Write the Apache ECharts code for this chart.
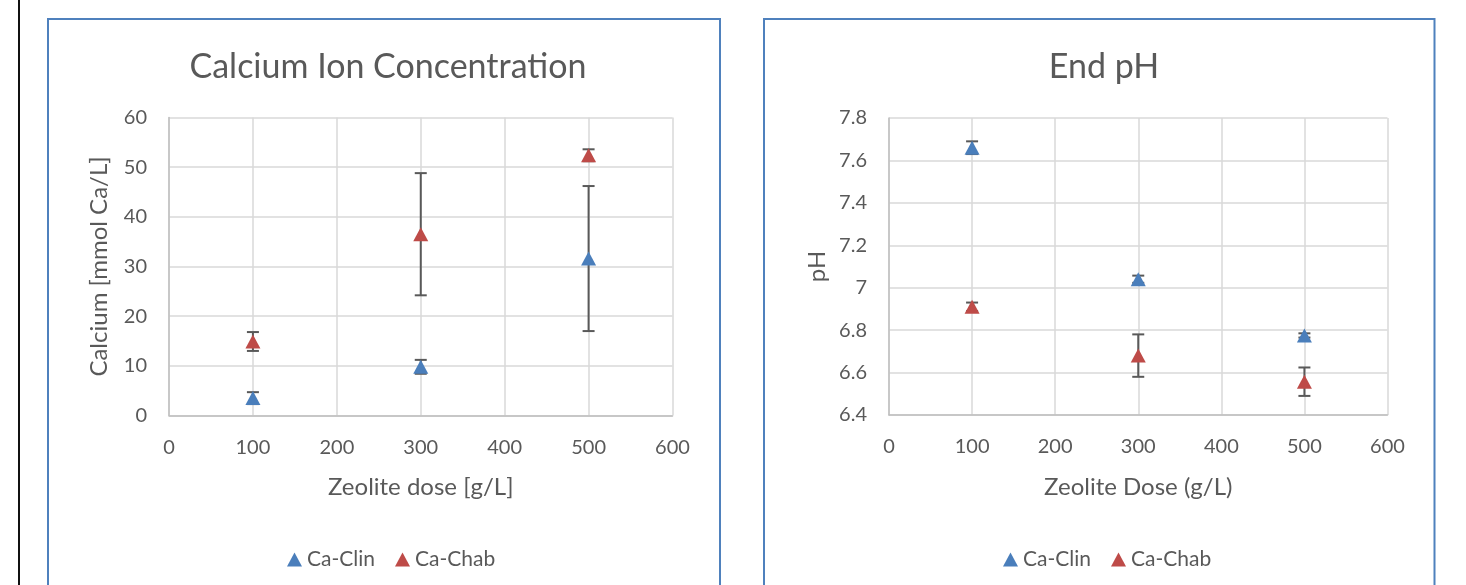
<!DOCTYPE html>
<html><head><meta charset="utf-8">
<script src="https://cdn.jsdelivr.net/npm/echarts@6/dist/echarts.min.js"></script>
<style>html,body{margin:0;padding:0;background:#fff;}#c{width:1466px;height:585px;}</style>
</head><body><div id="c"></div>
<script>
const doses = [100, 300, 500];
const caClin = [3.5, 9.8, 31.6];
const caClinErr = [1.2, 1.4, 14.6];
const caChab = [14.9, 36.5, 52.4];
const caChabErr = [1.9, 12.3, 1.2];
const phClin = [7.66, 7.04, 6.775];
const phClinErr = [0.03, 0.017, 0.01];
const phChab = [6.91, 6.68, 6.557];
const phChabErr = [0.02, 0.1, 0.067];
const seriesNames = ['Ca-Clin', 'Ca-Chab'];
const titles = ['Calcium Ion Concentration', 'End pH'];
const xNames = ['Zeolite dose [g/L]', 'Zeolite Dose (g/L)'];
const yNames = ['Calcium [mmol Ca/L]', 'pH'];

const BLUE = '#4a7ebb', RED = '#be4b48', TXT = '#595959', FONT = 'Lato, "Open Sans", sans-serif';

function pts(xs, ys) { return xs.map((x, i) => [x, ys[i]]); }
function errPts(xs, ys, es) { return xs.map((x, i) => [x, ys[i] - es[i], ys[i] + es[i]]); }

function errSeries(idx, data) {
  return {
    type: 'custom', xAxisIndex: idx, yAxisIndex: idx, z: 1, silent: true,
    data: data,
    renderItem: function (params, api) {
      const x = api.value(0);
      const lo = api.coord([x, api.value(1)]);
      const hi = api.coord([x, api.value(2)]);
      const w = 6;
      const st = { stroke: '#595959', lineWidth: 2 };
      return { type: 'group', children: [
        { type: 'line', shape: { x1: lo[0], y1: lo[1], x2: hi[0], y2: hi[1] }, style: st },
        { type: 'line', shape: { x1: lo[0] - w, y1: lo[1], x2: lo[0] + w, y2: lo[1] }, style: st },
        { type: 'line', shape: { x1: hi[0] - w, y1: hi[1], x2: hi[0] + w, y2: hi[1] }, style: st }
      ]};
    }
  };
}
function scat(idx, name, color, data) {
  return { type: 'scatter', name: name, xAxisIndex: idx, yAxisIndex: idx, z: 3,
    symbol: 'triangle', symbolSize: [15, 14], itemStyle: { color: color, opacity: 1 }, data: data };
}
function xAx(idx) {
  return { type: 'value', gridIndex: idx, min: 0, max: 600, interval: 100,
    name: xNames[idx], nameLocation: 'middle', nameGap: 60,
    nameTextStyle: { color: TXT, fontSize: 24, fontFamily: FONT },
    axisLine: { show: true, onZero: false, lineStyle: { color: '#bfbfbf', width: 1.5 } },
    axisTick: { show: false },
    axisLabel: { color: TXT, fontSize: 20, fontFamily: FONT, margin: 22 },
    splitLine: { show: true, lineStyle: { color: '#d9d9d9', width: 1.5 } } };
}
function yAx(idx, min, max, interval, gap) {
  return { type: 'value', gridIndex: idx, min: min, max: max, interval: interval,
    name: yNames[idx], nameLocation: 'middle', nameGap: gap,
    nameTextStyle: { color: TXT, fontSize: 24, fontFamily: FONT },
    axisLine: { show: true, lineStyle: { color: '#bfbfbf', width: 1.5 } },
    axisTick: { show: false },
    axisLabel: { color: TXT, fontSize: 20, fontFamily: FONT, margin: 22 },
    splitLine: { show: true, lineStyle: { color: '#d9d9d9', width: 1.5 } } };
}

const chart = echarts.init(document.getElementById('c'), null, { renderer: 'canvas' });
chart.setOption({
  animation: false,
  backgroundColor: '#fff',
  title: [
    { text: titles[0], left: 383, top: 45, textAlign: 'center', textStyle: { color: TXT, fontSize: 34, fontWeight: 'normal', fontFamily: FONT } },
    { text: titles[1], left: 1099, top: 45, textAlign: 'center', textStyle: { color: TXT, fontSize: 34, fontWeight: 'normal', fontFamily: FONT } }
  ],
  grid: [
    { left: 169, top: 117.5, width: 503.5, height: 298 },
    { left: 889, top: 118, width: 498.5, height: 297 }
  ],
  xAxis: [xAx(0), xAx(1)],
  yAxis: [yAx(0, 0, 60, 10, 58), yAx(1, 6.4, 7.8, 0.2, 60)],
  legend: [
    { left: 282, top: 544, itemWidth: 15, itemHeight: 14, itemGap: 20, icon: 'triangle',
      data: seriesNames, textStyle: { color: TXT, fontSize: 21, fontFamily: FONT } },
    { left: 998, top: 544, itemWidth: 15, itemHeight: 14, itemGap: 20, icon: 'triangle',
      data: seriesNames, textStyle: { color: TXT, fontSize: 21, fontFamily: FONT } }
  ],
  graphic: [
    { type: 'rect', shape: { x: 48, y: 19, width: 672, height: 620 }, style: { fill: null, stroke: '#4f81bd', lineWidth: 2 }, silent: true, z: -1 },
    { type: 'rect', shape: { x: 764, y: 19, width: 670.5, height: 620 }, style: { fill: null, stroke: '#4f81bd', lineWidth: 2 }, silent: true, z: -1 },
    { type: 'line', shape: { x1: 19, y1: 0, x2: 19, y2: 585 }, style: { stroke: '#111', lineWidth: 2 }, silent: true }
  ],
  series: [
    errSeries(0, errPts(doses, caClin, caClinErr)),
    errSeries(0, errPts(doses, caChab, caChabErr)),
    scat(0, seriesNames[0], BLUE, pts(doses, caClin)),
    scat(0, seriesNames[1], RED, pts(doses, caChab)),
    errSeries(1, errPts(doses, phClin, phClinErr)),
    errSeries(1, errPts(doses, phChab, phChabErr)),
    scat(1, seriesNames[0], BLUE, pts(doses, phClin)),
    scat(1, seriesNames[1], RED, pts(doses, phChab))
  ]
});
</script></body></html>
